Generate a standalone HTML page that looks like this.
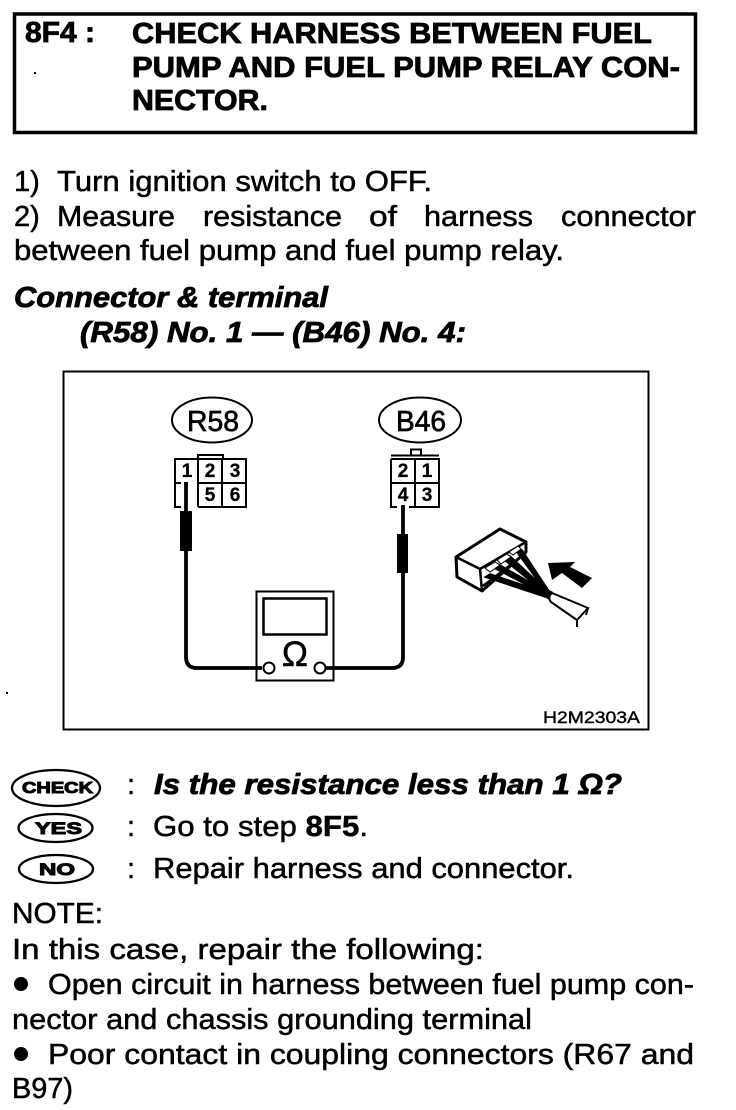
<!DOCTYPE html>
<html><head><meta charset="utf-8"><style>
html,body{margin:0;padding:0;background:#fff}
svg{display:block}
text{font-family:"Liberation Sans",sans-serif;fill:#000}
.t{font-size:29px;stroke:#000;stroke-width:.5px}
.b{font-size:29px;font-weight:bold;stroke:#000;stroke-width:.8px}
.bi{font-size:29px;font-weight:bold;font-style:italic;stroke:#000;stroke-width:.8px}
.n{font-size:19px;font-weight:bold;text-anchor:middle;stroke:#000;stroke-width:.3px}
.o{font-weight:bold;stroke:#000;stroke-width:1px}
</style></head><body>
<svg width="736" height="1110" viewBox="0 0 736 1110" xmlns="http://www.w3.org/2000/svg">
<rect x="14.500" y="14" width="681" height="118.500" fill="none" stroke="#000" stroke-width="3.500"/>
<rect x="34" y="72" width="2" height="2"/><rect x="6" y="692" width="2" height="2"/>
<text class="b" x="25" y="42" textLength="70" lengthAdjust="spacingAndGlyphs">8F4 :</text>
<text class="b" x="132" y="43" textLength="520" lengthAdjust="spacingAndGlyphs">CHECK HARNESS BETWEEN FUEL</text>
<text class="b" x="132" y="77" textLength="548" lengthAdjust="spacingAndGlyphs">PUMP AND FUEL PUMP RELAY CON-</text>
<text class="b" x="132" y="110" textLength="136" lengthAdjust="spacingAndGlyphs">NECTOR.</text>

<text class="t" x="14" y="191">1)</text>
<text class="t" x="57" y="191" textLength="375" lengthAdjust="spacingAndGlyphs">Turn ignition switch to OFF.</text>
<text class="t" x="14" y="226">2)</text>
<text class="t" x="57" y="226" textLength="118" lengthAdjust="spacingAndGlyphs">Measure</text>
<text class="t" x="203" y="226" textLength="139" lengthAdjust="spacingAndGlyphs">resistance</text>
<text class="t" x="369" y="226" textLength="28" lengthAdjust="spacingAndGlyphs">of</text>
<text class="t" x="424" y="226" textLength="109" lengthAdjust="spacingAndGlyphs">harness</text>
<text class="t" x="561" y="226" textLength="135" lengthAdjust="spacingAndGlyphs">connector</text>
<text class="t" x="14" y="260" textLength="550" lengthAdjust="spacingAndGlyphs">between fuel pump and fuel pump relay.</text>
<text class="bi" x="14" y="307" textLength="314" lengthAdjust="spacingAndGlyphs">Connector &amp; terminal</text>
<text class="bi" x="80" y="342" textLength="386" lengthAdjust="spacingAndGlyphs">(R58) No. 1 — (B46) No. 4:</text>

<rect x="63.500" y="371.500" width="585" height="358" fill="none" stroke="#000" stroke-width="2"/>
<ellipse cx="212" cy="420" rx="40" ry="22.500" fill="none" stroke="#000" stroke-width="2"/>
<text x="187" y="431" font-size="29" stroke="#000" stroke-width=".7" textLength="52" lengthAdjust="spacingAndGlyphs">R58</text>
<ellipse cx="420" cy="420" rx="41" ry="22.500" fill="none" stroke="#000" stroke-width="2"/>
<text x="396" y="431" font-size="29" stroke="#000" stroke-width=".7" textLength="50" lengthAdjust="spacingAndGlyphs">B46</text>

<g fill="none" stroke="#000" stroke-width="2">
<path d="M175 493V459H246V507H198M175 493V507H181M198 459V507M222 459V507M175 483H181M198 483H246M198 459V455H223V459"/>
<path d="M391 459V507H397M409 507H439V459H391M391 455.500H439M415 459V507M391 483H439"/>
<path d="M411 455V449.500H421V455"/>
</g>
<text class="n" x="187" y="477">1</text><text class="n" x="210" y="477">2</text><text class="n" x="235" y="477">3</text>
<text class="n" x="210" y="501">5</text><text class="n" x="235" y="501">6</text>
<text class="n" x="403" y="477">2</text><text class="n" x="427" y="477">1</text>
<text class="n" x="403" y="501">4</text><text class="n" x="427" y="501">3</text>

<g fill="none" stroke="#000" stroke-width="3.800">
<path d="M186 482V657Q186 668 197 668H262"/>
<path d="M403 505V657Q403 668 392 668H326"/>
</g>
<rect x="180" y="511" width="12" height="40"/>
<rect x="397" y="534" width="11" height="39"/>
<rect x="256.500" y="591.500" width="77" height="89" fill="none" stroke="#000" stroke-width="2"/>
<rect x="263.500" y="598.500" width="63" height="36" fill="none" stroke="#000" stroke-width="2.500"/>
<circle cx="269" cy="668" r="5.500" fill="#fff" stroke="#000" stroke-width="2"/>
<circle cx="320" cy="668" r="5.500" fill="#fff" stroke="#000" stroke-width="2"/>
<text x="295" y="666" font-size="35" text-anchor="middle" stroke="#000" stroke-width=".5">Ω</text>

<g fill="#fff" stroke="#000" stroke-width="3" stroke-linejoin="round">
<path d="M456 557L500 529L526 542V552L482 591L457 577Z"/>
</g>
<path d="M456 557L480 569L526 542M480 569L482 591M483 586L526 553" stroke="#000" stroke-width="2.500" fill="none"/>
<path d="M516 551L522 550L551 594L546 592ZM503 559L510 556L551 594L544 592ZM492 567L498 564L551 594L544 594ZM485 577L490 574L551 594L545 597Z" stroke="#000" stroke-width="1.500"/>
<path d="M485 568L495 562L500 565L490 572ZM497 560L507 554L511 557L501 564ZM509 552L518 546L521 549L513 555Z" fill="#fff" stroke="#000" stroke-width="1"/>
<path d="M540 585L553 592L551 601L536 592Z"/>
<path d="M552 593L588 608L577 620L551 602Q547 597 552 593Z" fill="#fff" stroke="#000" stroke-width="2"/>
<path d="M588 608L586 615M577 620V627" stroke="#000" stroke-width="2" fill="none"/>
<path d="M548 563L575 562L570 567L592 578L582 588L562 573L552 580Z"/>
<text x="543" y="723" font-size="17" stroke="#000" stroke-width=".4" textLength="97" lengthAdjust="spacingAndGlyphs">H2M2303A</text>

<g fill="none" stroke="#000" stroke-width="2.300">
<ellipse cx="56" cy="788" rx="44" ry="18"/>
<ellipse cx="55.500" cy="828" rx="37" ry="14"/>
<ellipse cx="56" cy="869" rx="37" ry="14"/>
</g>
<text class="o" x="22" y="793" font-size="16" textLength="71" lengthAdjust="spacingAndGlyphs">CHECK</text>
<text class="o" x="35" y="834" font-size="17" textLength="47" lengthAdjust="spacingAndGlyphs">YES</text>
<text class="o" x="39" y="875" font-size="17" textLength="36" lengthAdjust="spacingAndGlyphs">NO</text>

<text class="t" x="127" y="794">:</text>
<text class="t" x="127" y="836">:</text>
<text class="t" x="127" y="878">:</text>
<text class="bi" x="154" y="794" textLength="468" lengthAdjust="spacingAndGlyphs">Is the resistance less than 1 Ω?</text>
<text class="t" x="153" y="836" textLength="215" lengthAdjust="spacingAndGlyphs">Go to step <tspan font-weight="bold">8F5</tspan>.</text>
<text class="t" x="153" y="878" textLength="421" lengthAdjust="spacingAndGlyphs">Repair harness and connector.</text>
<text class="t" x="12" y="923" textLength="91" lengthAdjust="spacingAndGlyphs">NOTE:</text>
<text class="t" x="12" y="959" textLength="472" lengthAdjust="spacingAndGlyphs">In this case, repair the following:</text>
<circle cx="21" cy="984" r="7"/>
<text class="t" x="48" y="994" textLength="646" lengthAdjust="spacingAndGlyphs">Open circuit in harness between fuel pump con-</text>
<text class="t" x="12" y="1029" textLength="520" lengthAdjust="spacingAndGlyphs">nector and chassis grounding terminal</text>
<circle cx="21" cy="1054" r="7"/>
<text class="t" x="48" y="1064" textLength="646" lengthAdjust="spacingAndGlyphs">Poor contact in coupling connectors (R67 and</text>
<text class="t" x="12" y="1098" textLength="61" lengthAdjust="spacingAndGlyphs">B97)</text>
</svg>
</body></html>
